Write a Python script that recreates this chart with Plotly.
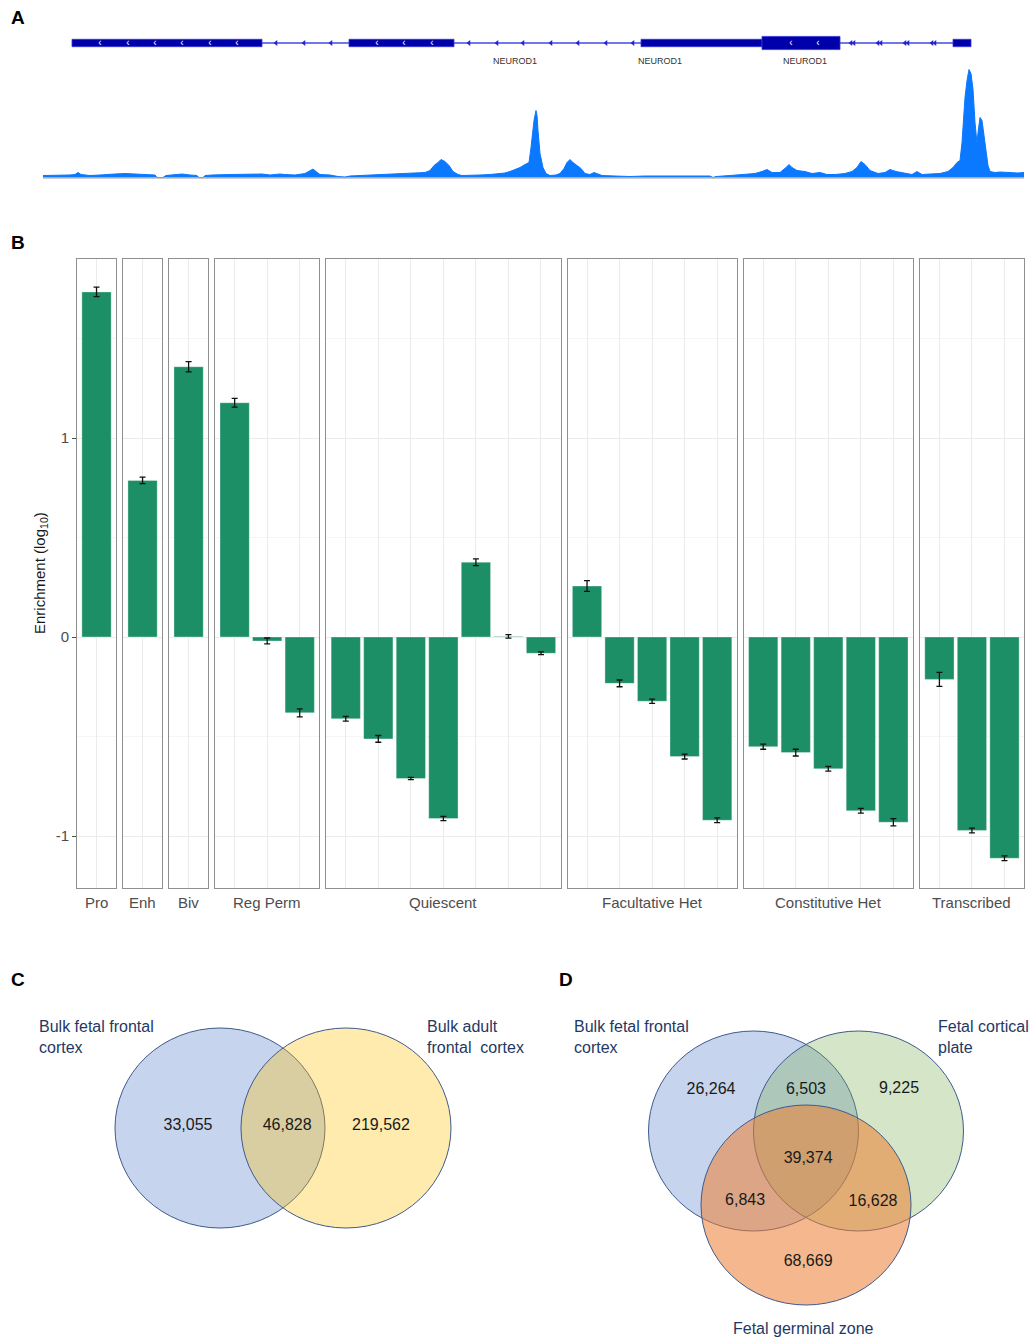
import plotly.graph_objects as go

W, H = 1030, 1338
FONT = "Arial, 'Liberation Sans', sans-serif"

# ---------------- Panel A: NEUROD1 locus (positions in kb from window start)
exon_start_kb = [0.29, 3.06, 5.98, 7.19, 9.10]
exon_end_kb = [2.19, 4.11, 7.19, 7.97, 9.28]
exon_is_cds = [False, False, False, True, False]
intron_span_kb = [2.19, 9.10]
strand_marks_kb = [2.33, 2.61, 2.88, 4.26, 4.54, 4.80, 5.08, 5.35, 5.63, 5.90]
double_marks_kb = [8.08, 8.11, 8.35, 8.38, 8.62, 8.65, 8.89, 8.92]
chevron_kb = [0.57, 0.85, 1.12, 1.39, 1.67, 1.94, 3.34, 3.61, 3.89, 7.48, 7.75]
gene_label_kb = [4.72, 6.17, 7.62]
gene_labels = ["NEUROD1", "NEUROD1", "NEUROD1"]

cov_pos_kb = [0.00, 0.17, 0.27, 0.32, 0.35, 0.38, 0.47, 0.57, 0.62, 0.72, 0.82, 0.92,
              1.02, 1.12, 1.14, 1.20, 1.23, 1.32, 1.39, 1.47, 1.54, 1.56, 1.60, 1.62,
              1.69, 1.87, 2.02, 2.12, 2.19, 2.27, 2.37, 2.42, 2.52, 2.62, 2.67, 2.70,
              2.73, 2.77, 2.87, 2.95, 3.02, 3.07, 3.17, 3.27, 3.42, 3.52, 3.62, 3.72,
              3.82, 3.87, 3.91, 3.95, 3.98, 4.02, 4.06, 4.10, 4.15, 4.19, 4.27, 4.37,
              4.47, 4.57, 4.62, 4.67, 4.72, 4.77, 4.82, 4.86, 4.88, 4.89, 4.91, 4.93,
              4.94, 4.95, 4.97, 5.00, 5.03, 5.07, 5.13, 5.17, 5.21, 5.24, 5.27, 5.30,
              5.34, 5.38, 5.42, 5.47, 5.51, 5.54, 5.59, 5.72, 5.87, 6.02, 6.17, 6.37,
              6.57, 6.67, 6.70, 6.73, 6.87, 7.02, 7.12, 7.19, 7.24, 7.29, 7.37, 7.43,
              7.46, 7.49, 7.54, 7.62, 7.69, 7.77, 7.84, 7.92, 8.02, 8.09, 8.14, 8.18,
              8.22, 8.27, 8.35, 8.42, 8.47, 8.53, 8.62, 8.69, 8.74, 8.79, 8.87, 8.97,
              9.05, 9.10, 9.14, 9.17, 9.19, 9.20, 9.22, 9.24, 9.26, 9.28, 9.30, 9.32,
              9.34, 9.35, 9.37, 9.39, 9.41, 9.43, 9.45, 9.47, 9.52, 9.57, 9.67, 9.75,
              9.81]
cov_depth = [2, 2, 2.5, 3, 5, 3, 2, 2.5, 3, 3.5, 4, 3.5,
             3, 2.5, 0, 0, 2, 3, 3.5, 2.5, 2, 0, 0, 2,
             2.5, 3, 3.5, 4, 3.5, 2.5, 3.5, 3, 2.5, 4, 7, 8.5,
             6, 3, 2.5, 1, 0.5, 1.5, 2, 2.5, 2.5, 3, 3.5, 4,
             5, 7, 12, 15, 18, 16, 12, 6, 3, 2, 2, 2.5,
             3, 3.5, 4.5, 6, 8, 10, 13, 15, 30, 40, 57, 67,
             62, 47, 24, 10, 4, 2, 2.5, 4, 9, 15, 18, 15,
             12, 9, 4, 3, 5, 4, 2, 1.5, 1, 1.5, 1.5, 2,
             2, 1.5, 0, 1, 2, 3, 4, 6, 8, 5, 5, 10,
             13, 10, 7, 6, 4, 5, 3, 3, 4, 6, 10, 16,
             13, 7, 4, 5, 8, 6, 4, 3, 6, 3, 3.5, 4,
             6, 10, 15, 17, 35, 54, 80, 97, 108, 104, 88, 55,
             34, 45, 60, 57, 42, 26, 12, 6, 5, 5.5, 5, 4.5,
             5]

# ---------------- Panel B: enrichment (log10) of chromatin states
state_classes = ["Pro", "Enh", "Biv", "Reg Perm", "Quiescent",
                 "Facultative Het", "Constitutive Het", "Transcribed"]
enrich_pro = [1.734]
enrich_enh = [0.787]
enrich_biv = [1.358]
enrich_regperm = [1.177, -0.020, -0.381]
enrich_quies = [-0.411, -0.512, -0.711, -0.912, 0.376, 0.003, -0.082]
enrich_fachet = [0.256, -0.233, -0.323, -0.601, -0.921]
enrich_conhet = [-0.551, -0.581, -0.662, -0.873, -0.931]
enrich_tx = [-0.213, -0.972, -1.112]
se_pro = [0.024]
se_enh = [0.016]
se_biv = [0.026]
se_regperm = [0.022, 0.015, 0.020]
se_quies = [0.012, 0.017, 0.006, 0.011, 0.017, 0.009, 0.007]
se_fachet = [0.027, 0.017, 0.011, 0.012, 0.012]
se_conhet = [0.013, 0.017, 0.012, 0.012, 0.018]
se_tx = [0.035, 0.012, 0.012]
y_ticks = [-1, 0, 1]
y_tick_text = ["-1", "0", "1"]

# ---------------- Panels C and D: peak overlap counts
venn2_sets = ["Bulk fetal frontal<br>cortex", "Bulk adult<br>frontal\u00a0 cortex"]
venn2_counts = [33055, 46828, 219562]
venn3_sets = ["Bulk fetal frontal<br>cortex", "Fetal cortical<br>plate", "Fetal germinal zone"]
venn3_counts = [26264, 6503, 9225, 39374, 6843, 16628, 68669]


def fx(px):
    return px / W


def fy(py):
    return 1 - py / H


fig = go.Figure()
layout_axes = {}
annotations = []
shapes = []

# ================= Panel B =================
enrich_groups = [enrich_pro, enrich_enh, enrich_biv, enrich_regperm,
                 enrich_quies, enrich_fachet, enrich_conhet, enrich_tx]
se_groups = [se_pro, se_enh, se_biv, se_regperm, se_quies, se_fachet, se_conhet, se_tx]

B_LEFT, B_RIGHT, B_TOP, B_BOT, B_GAP = 77, 1024, 259, 888, 7
ZERO_PX, PX_PER_UNIT = 637, 199.0
y_range = [-(B_BOT - ZERO_PX) / PX_PER_UNIT, (ZERO_PX - B_TOP) / PX_PER_UNIT]
units = [len(g) + 0.2 for g in enrich_groups]
u = (B_RIGHT - B_LEFT - B_GAP * (len(units) - 1)) / sum(units)
bar_green = "#1d8f67"
grid_col = "#ebebeb"
border_col = "#8f8f8f"

x_cursor = B_LEFT
for i, (label, vals, errs) in enumerate(zip(state_classes, enrich_groups, se_groups)):
    sfx = "" if i == 0 else str(i + 1)
    n = len(vals)
    x0 = x_cursor
    x1 = x0 + units[i] * u
    x_cursor = x1 + B_GAP
    fig.add_trace(go.Bar(
        x=list(range(n)), y=vals, width=0.9,
        marker=dict(color=bar_green, line=dict(color="rgba(255,255,255,0.55)", width=0.6)),
        error_y=dict(type="data", array=errs, visible=True, color="#111111",
                     thickness=1.3, width=3),
        xaxis="x" + sfx, yaxis="y" + sfx, showlegend=False, hoverinfo="y"))
    layout_axes["xaxis" + sfx] = dict(
        domain=[fx(x0), fx(x1)], anchor="y" + sfx, range=[-0.6, n - 0.4],
        tickvals=list(range(n)), showticklabels=False, ticks="",
        showgrid=True, gridcolor=grid_col, gridwidth=1, zeroline=False,
        showline=True, mirror=True, linecolor=border_col, linewidth=1, fixedrange=True)
    yax = dict(
        domain=[fy(B_BOT), fy(B_TOP)], anchor="x" + sfx, range=y_range,
        tickvals=y_ticks, ticktext=y_tick_text,
        showgrid=True, gridcolor=grid_col, gridwidth=1, zeroline=False,
        minor=dict(tickvals=[-0.5, 0.5, 1.5], showgrid=True, gridcolor="#f5f5f5", ticks=""),
        showline=True, mirror=True, linecolor=border_col, linewidth=1)
    if i == 0:
        yax.update(ticks="outside", ticklen=4, tickwidth=1, tickcolor="#4d4d4d",
                   tickfont=dict(size=15, color="#4d4d4d", family=FONT))
    else:
        yax.update(matches="y", showticklabels=False, ticks="")
    layout_axes["yaxis" + sfx] = yax
    annotations.append(dict(
        text=label, xref=("x" + sfx + " domain"), x=0.5, yref="paper", y=fy(902),
        showarrow=False, xanchor="center", yanchor="middle",
        font=dict(size=15, color="#4d4d4d", family=FONT)))

annotations.append(dict(
    text="Enrichment (log<sub>10</sub>)", xref="paper", yref="paper",
    x=fx(40), y=fy(573), textangle=-90, showarrow=False,
    xanchor="center", yanchor="middle", font=dict(size=15, color="#1a1a1a", family=FONT)))

# ================= Panel A =================
A_X0, A_X1 = 43, 1024
layout_axes["xaxis9"] = dict(domain=[fx(A_X0), fx(A_X1)], anchor="y9",
                             range=[0, 9.81], visible=False, fixedrange=True)
layout_axes["yaxis9"] = dict(domain=[fy(177.5), fy(59.5)], anchor="x9", range=[0, 118],
                             showgrid=False, showticklabels=False, ticks="", showline=False,
                             zeroline=True, zerolinecolor="#c9c9c9", zerolinewidth=1.5)
layout_axes["xaxis10"] = dict(domain=[fx(A_X0), fx(A_X1)], anchor="y10",
                              range=[0, 9.81], visible=False, matches="x9")
layout_axes["yaxis10"] = dict(domain=[fy(73), fy(23)], anchor="x10", range=[-1.5, 1],
                              visible=False)

fig.add_trace(go.Scatter(
    x=cov_pos_kb, y=cov_depth, mode="lines", fill="tozeroy",
    line=dict(color="#0a78ff", width=1), fillcolor="#0a78ff",
    xaxis="x9", yaxis="y9", showlegend=False, hoverinfo="skip"))

shapes.append(dict(type="line", xref="x10", yref="y10",
                   x0=intron_span_kb[0], x1=intron_span_kb[1], y0=0, y1=0,
                   line=dict(color="#4848e6", width=1.5), layer="below"))
for s, e, cds in zip(exon_start_kb, exon_end_kb, exon_is_cds):
    h = 0.33 if cds else 0.185
    shapes.append(dict(type="rect", xref="x10", yref="y10", x0=s, x1=e, y0=-h, y1=h,
                       fillcolor="#0000aa", line=dict(color="#3535d8", width=0.8),
                       layer="below"))

fig.add_trace(go.Scatter(
    x=strand_marks_kb + double_marks_kb, y=[0] * (len(strand_marks_kb) + len(double_marks_kb)),
    mode="markers", marker=dict(symbol="triangle-left", size=5, color="#2323d2"),
    xaxis="x10", yaxis="y10", showlegend=False, hoverinfo="skip"))
fig.add_trace(go.Scatter(
    x=chevron_kb, y=[0] * len(chevron_kb), mode="text", text=["‹"] * len(chevron_kb),
    textposition="middle center", textfont=dict(color="white", size=10, family=FONT),
    xaxis="x10", yaxis="y10", showlegend=False, hoverinfo="skip"))
fig.add_trace(go.Scatter(
    x=gene_label_kb, y=[-0.95] * len(gene_label_kb), mode="text", text=gene_labels,
    textposition="middle center", textfont=dict(color="#333333", size=9, family=FONT),
    xaxis="x10", yaxis="y10", showlegend=False, hoverinfo="skip"))

# ================= Panels C and D (Venn) =================
SX, SY = 105.0, 100.0  # pixels per venn unit


def venn_axes(n, ox, oy, dom_x, dom_y):
    layout_axes["xaxis" + n] = dict(
        domain=[fx(dom_x[0]), fx(dom_x[1])], anchor="y" + n, visible=False,
        range=[(dom_x[0] - ox) / SX, (dom_x[1] - ox) / SX], fixedrange=True)
    layout_axes["yaxis" + n] = dict(
        domain=[fy(dom_y[1]), fy(dom_y[0])], anchor="x" + n, visible=False,
        range=[-(dom_y[1] - oy) / SY, (oy - dom_y[0]) / SY], fixedrange=True)


outline = "#3f5a8c"
name_font = dict(size=16, color="#1f3864", family=FONT)
count_font = dict(size=16, color="#1a1a1a", family=FONT)


def circle(n, cx, cy, fill):
    shapes.append(dict(type="circle", xref="x" + n, yref="y" + n,
                       x0=cx - 1, x1=cx + 1, y0=cy - 1, y1=cy + 1,
                       fillcolor=fill, line=dict(color=outline, width=1), layer="below"))


# Panel C: two-set diagram
venn_axes("11", 283, 1128, (20, 540), (990, 1250))
c2_centres = [(-0.6, 0.0), (0.6, 0.0)]
c2_fills = ["rgba(68,114,196,0.30)", "rgba(255,192,0,0.32)"]
for (cx, cy), f in zip(c2_centres, c2_fills):
    circle("11", cx, cy, f)
c2_label_xy = [(-0.905, 0.02), (0.04, 0.02), (0.933, 0.02)]
fig.add_trace(go.Scatter(
    x=[p[0] for p in c2_label_xy], y=[p[1] for p in c2_label_xy], mode="text",
    text=[f"{v:,}" for v in venn2_counts], textposition="middle center",
    textfont=count_font, xaxis="x11", yaxis="y11", showlegend=False, hoverinfo="skip"))
for txt, (lx, ly) in zip(venn2_sets, [(-2.343, 0.91), (1.352, 0.91)]):
    annotations.append(dict(text=txt, xref="x11", yref="y11", x=lx, y=ly,
                            xanchor="left", yanchor="middle", align="left",
                            showarrow=False, font=name_font))

# Panel D: three-set diagram
venn_axes("12", 806, 1131, (560, 1030), (990, 1338))
c3_centres = [(-0.5, 0.0), (0.5, 0.0), (0.0, -0.74)]
c3_fills = ["rgba(68,114,196,0.30)", "rgba(112,173,71,0.30)", "rgba(237,125,49,0.55)"]
for (cx, cy), f in zip(c3_centres, c3_fills):
    circle("12", cx, cy, f)
c3_label_xy = [(-0.905, 0.41), (0.0, 0.41), (0.886, 0.42), (0.02, -0.28),
               (-0.58, -0.70), (0.638, -0.71), (0.02, -1.31)]
fig.add_trace(go.Scatter(
    x=[p[0] for p in c3_label_xy], y=[p[1] for p in c3_label_xy], mode="text",
    text=[f"{v:,}" for v in venn3_counts], textposition="middle center",
    textfont=count_font, xaxis="x12", yaxis="y12", showlegend=False, hoverinfo="skip"))
for txt, (lx, ly), anc in zip(venn3_sets, [(-2.229, 0.94), (1.238, 0.94), (-0.02, -1.97)],
                              ["left", "left", "center"]):
    annotations.append(dict(text=txt, xref="x12", yref="y12", x=lx, y=ly,
                            xanchor=anc, yanchor="middle", align="left",
                            showarrow=False, font=name_font))

# ================= Panel letters =================
for letter, (px, py) in zip(["A", "B", "C", "D"], [(18, 17), (18, 243), (18, 979), (566, 979)]):
    annotations.append(dict(text=f"<b>{letter}</b>", xref="paper", yref="paper",
                            x=fx(px), y=fy(py), xanchor="center", yanchor="middle",
                            showarrow=False, font=dict(size=19, color="black", family=FONT)))

fig.update_layout(
    width=W, height=H, margin=dict(l=0, r=0, t=0, b=0),
    paper_bgcolor="white", plot_bgcolor="rgba(0,0,0,0)",
    font=dict(family=FONT), showlegend=False, bargap=0.1,
    annotations=annotations, shapes=shapes, **layout_axes)

fig.write_html("out.html")
